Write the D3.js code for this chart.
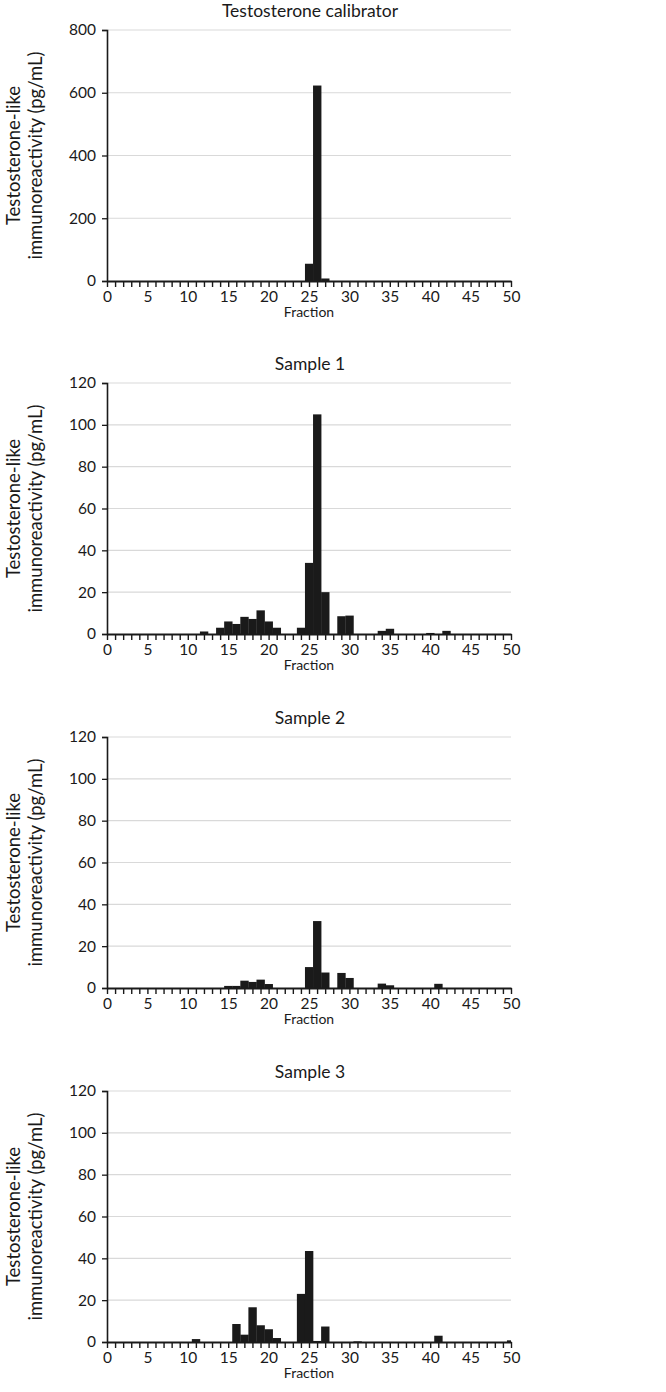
<!DOCTYPE html>
<html>
<head>
<meta charset="utf-8">
<script src="https://cdn.jsdelivr.net/npm/d3@7"></script>
<style>
  body { margin: 0; background: #fff; }
  svg { display: block; }
  text { font-family: Lato, "Open Sans", sans-serif; fill: #1a1a1a; }
</style>
</head>
<body>
<svg id="chart" width="666" height="1392"></svg>
<script>
// ---- data ----
const fractions = d3.range(0, 51);
const xTickLabels = [0, 5, 10, 15, 20, 25, 30, 35, 40, 45, 50];
const panelTitles = ["Testosterone calibrator", "Sample 1", "Sample 2", "Sample 3"];
const yTicksCalibrator = [0, 200, 400, 600, 800];
const yTicksSample = [0, 20, 40, 60, 80, 100, 120];

const calibrator = [0,0,0,0,0,0,0,0,0,0, 0,0,0,0,0,0,0,0,0,0, 0,0,0,0,0,55,623,8,0,0, 0,0,0,0,0,0,0,0,0,0, 0,0,0,0,0,0,0,0,0,0, 0];
const sample1 = [0,0,0,0,0,0,0,0,0,0, 0,0,1.2,0,3,6,4.8,8.2,7.2,11.3, 6,3,0,0,3,34,105,20,0,8.5, 8.8,0,0,0,1.5,2.5,0,0,0,0, 0.5,0,1.5,0,0,0,0,0,0,0, 0];
const sample2 = [0,0,0,0,0,0,0,0,0,0, 0,0,0,0,0,1,1,3.5,2.9,4, 1.9,0,0,0,0,10,32,7.4,0,7.2, 4.8,0,0,0,2.1,1.3,0,0,0,0, 0,2,0,0,0,0,0,0,0,0, 0];
const sample3 = [0,0,0,0,0,0,0,0,0,0, 0,1.4,0,0,0,0,8.6,3.5,16.6,8, 6.1,1.9,0,0,23,43.5,0.5,7.4,0,0, 0,0.3,0,0,0,0,0,0,0,0, 0,3,0,0,0,0,0,0,0,0, 0.8];

const seriesList = [calibrator, sample1, sample2, sample3];
const yMaxList = [800, 120, 120, 120];
const yTickList = [yTicksCalibrator, yTicksSample, yTicksSample, yTicksSample];

// ---- layout ----
const svg = d3.select("#chart");
const left = 107, right = 511;
const panelTops = [30, 383, 737, 1091];
const plotH = 251;

const x = d3.scaleLinear().domain([0, 50]).range([left, right]);
const bw = x(1) - x(0);

const defs = svg.append("defs");

seriesList.forEach((vals, p) => {
  const top = panelTops[p], bottom = top + plotH;
  const y = d3.scaleLinear().domain([0, yMaxList[p]]).range([bottom, top]);
  const g = svg.append("g");

  // gridlines
  g.selectAll("line.grid").data(yTickList[p].filter(d => d > 0)).join("line")
    .attr("x1", left).attr("x2", right)
    .attr("y1", d => y(d)).attr("y2", d => y(d))
    .attr("stroke", "#d9d9d9").attr("stroke-width", 1.2);

  // clip
  defs.append("clipPath").attr("id", "clip" + p)
    .append("rect").attr("x", left).attr("y", top - 2).attr("width", right - left).attr("height", plotH + 2);

  // bars
  g.append("g").attr("clip-path", `url(#clip${p})`)
    .selectAll("rect").data(fractions.filter(f => vals[f] > 0)).join("rect")
    .attr("x", f => x(f) - bw / 2)
    .attr("width", bw + 0.3)
    .attr("y", f => y(vals[f]))
    .attr("height", f => y(0) - y(vals[f]))
    .attr("fill", "#1a1a1a");

  // y axis
  const yAxis = d3.axisLeft(y).tickValues(yTickList[p]).tickSize(5).tickPadding(6).tickFormat(d3.format("d"));
  const ya = g.append("g").attr("transform", `translate(${left},0)`).call(yAxis);
  ya.select(".domain").attr("stroke", "#1a1a1a").attr("stroke-width", 1.6);
  ya.selectAll(".tick line").attr("stroke", "#1a1a1a").attr("stroke-width", 1.3);
  ya.selectAll(".tick text").attr("font-size", 15.5).attr("font-family", "Lato").attr("fill", "#1a1a1a");

  // x axis
  const xAxis = d3.axisBottom(x).tickValues(fractions).tickSize(6).tickSizeOuter(0).tickPadding(4)
    .tickFormat(d => xTickLabels.includes(d) ? d : "");
  const xa = g.append("g").attr("transform", `translate(0,${bottom})`).call(xAxis);
  xa.select(".domain").attr("stroke", "#1a1a1a").attr("stroke-width", 1.8);
  xa.selectAll(".tick line").attr("stroke", "#1a1a1a").attr("stroke-width", 1.4);
  xa.selectAll(".tick text").attr("font-size", 15.5).attr("font-family", "Lato").attr("fill", "#1a1a1a");

  // x title
  g.append("text").attr("x", (left + right) / 2).attr("y", bottom + 36)
    .attr("text-anchor", "middle").attr("font-size", 14).text("Fraction");

  // panel title
  g.append("text").attr("x", 310).attr("y", top - 13)
    .attr("text-anchor", "middle").attr("font-size", 17.5).text(panelTitles[p]);

  // y title (two lines)
  const cy = (top + bottom) / 2;
  const yt = g.append("text").attr("transform", `translate(0,${cy}) rotate(-90)`)
    .attr("text-anchor", "middle").attr("font-size", 18.5);
  yt.append("tspan").attr("x", 0).attr("y", 20).text("Testosterone-like");
  yt.append("tspan").attr("x", 0).attr("y", 42).text("immunoreactivity (pg/mL)");
});
</script>
</body>
</html>
